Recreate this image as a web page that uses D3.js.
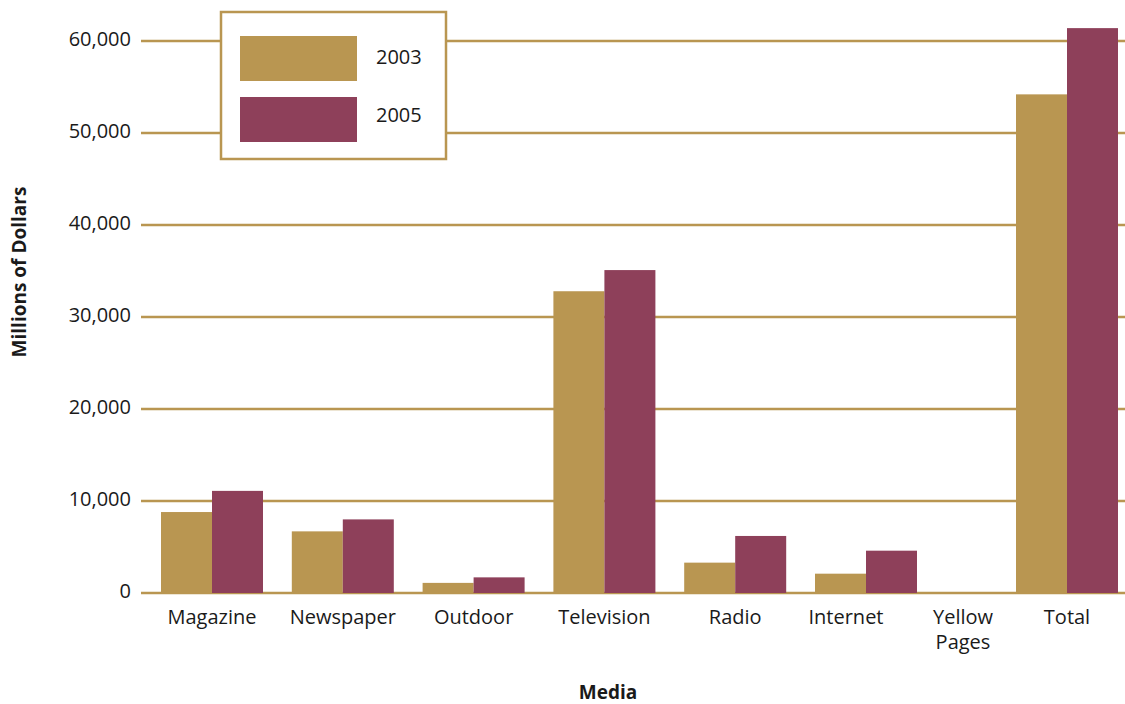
<!DOCTYPE html>
<html>
<head>
<meta charset="utf-8">
<script src="https://cdn.jsdelivr.net/npm/d3@7"></script>
<style>
  body { margin: 0; background: #fff; }
  text { font-family: "Open Sans", "Noto Sans", sans-serif; fill: #1a1a1a; }
</style>
</head>
<body>
<div id="chart"></div>
<script>
var categories = ["Magazine", "Newspaper", "Outdoor", "Television", "Radio", "Internet", "Yellow Pages", "Total"];
var years = ["2003", "2005"];
var values2003 = [8800, 6700, 1100, 32800, 3300, 2100, 0, 54200];
var values2005 = [11100, 8000, 1700, 35100, 6200, 4600, 0, 61400];
var yTicks = [0, 10000, 20000, 30000, 40000, 50000, 60000];

var gold = "#b99651",
    maroon = "#8e405a";

var width = 1125,
    height = 704;

var svg = d3.select("#chart").append("svg")
    .attr("width", width)
    .attr("height", height);

// y scale: 0 at the base line, 60,000 near the top
var y = d3.scaleLinear().domain([0, 60000]).range([593, 41]);

// category centres; the last two groups sit closer together in the original
var xCenter = d3.scaleLinear()
    .domain([0, 5, 6, 7])
    .range([212, 866, 963, 1067]);

var xSub = d3.scaleBand().domain(years).range([-51, 51]);

// grid lines
svg.append("g")
    .selectAll("line")
    .data(yTicks)
    .enter().append("line")
    .attr("x1", 141)
    .attr("x2", width)
    .attr("y1", function (d) { return y(d); })
    .attr("y2", function (d) { return y(d); })
    .attr("stroke", gold)
    .attr("stroke-width", 2.4);

// y axis labels (axis with no domain line)
var yAxis = d3.axisLeft(y)
    .tickValues(yTicks)
    .tickSize(0)
    .tickPadding(0)
    .tickFormat(d3.format(","));

svg.append("g")
    .attr("transform", "translate(131,0)")
    .call(yAxis)
    .call(function (g) { g.select(".domain").remove(); })
    .selectAll("text")
    .attr("font-family", "\"Open Sans\", sans-serif")
    .attr("font-size", 20)
    .attr("fill", "#1a1a1a")
    .attr("dy", "0.2em");

// bars
var series = [
    {year: "2003", values: values2003, color: gold},
    {year: "2005", values: values2005, color: maroon}
];

series.forEach(function (s) {
    svg.append("g")
        .selectAll("rect")
        .data(s.values)
        .enter().append("rect")
        .attr("x", function (d, i) { return xCenter(i) + xSub(s.year); })
        .attr("width", xSub.bandwidth())
        .attr("y", function (d) { return y(d); })
        .attr("height", function (d) { return y(0) - y(d); })
        .attr("fill", s.color);
});

// category labels
var catLabels = svg.append("g")
    .selectAll("text")
    .data(categories)
    .enter().append("text")
    .attr("x", function (d, i) { return xCenter(i) + (d === "Internet" ? -20 : 0); })
    .attr("y", 624)
    .attr("text-anchor", "middle")
    .attr("font-size", 20);

catLabels.each(function (d) {
    var words = d === "Yellow Pages" ? ["Yellow", "Pages"] : [d];
    var t = d3.select(this);
    words.forEach(function (w, k) {
        t.append("tspan")
            .attr("x", t.attr("x"))
            .attr("dy", k === 0 ? 0 : 25)
            .text(w);
    });
});

// axis titles
svg.append("text")
    .attr("x", 608)
    .attr("y", 699)
    .attr("text-anchor", "middle")
    .attr("font-size", 19)
    .attr("font-weight", "bold")
    .text("Media");

svg.append("text")
    .attr("transform", "translate(26,272) rotate(-90)")
    .attr("text-anchor", "middle")
    .attr("font-size", 19)
    .attr("font-weight", "bold")
    .text("Millions of Dollars");

// legend
var legend = svg.append("g");

legend.append("rect")
    .attr("x", 221)
    .attr("y", 12)
    .attr("width", 225)
    .attr("height", 147)
    .attr("fill", "#fff")
    .attr("stroke", gold)
    .attr("stroke-width", 2.5);

series.forEach(function (s, i) {
    legend.append("rect")
        .attr("x", 240)
        .attr("y", 36 + i * 61)
        .attr("width", 117)
        .attr("height", 45)
        .attr("fill", s.color);
    legend.append("text")
        .attr("x", 376)
        .attr("y", 64 + i * 58)
        .attr("font-size", 20)
        .text(s.year);
});
</script>
</body>
</html>
